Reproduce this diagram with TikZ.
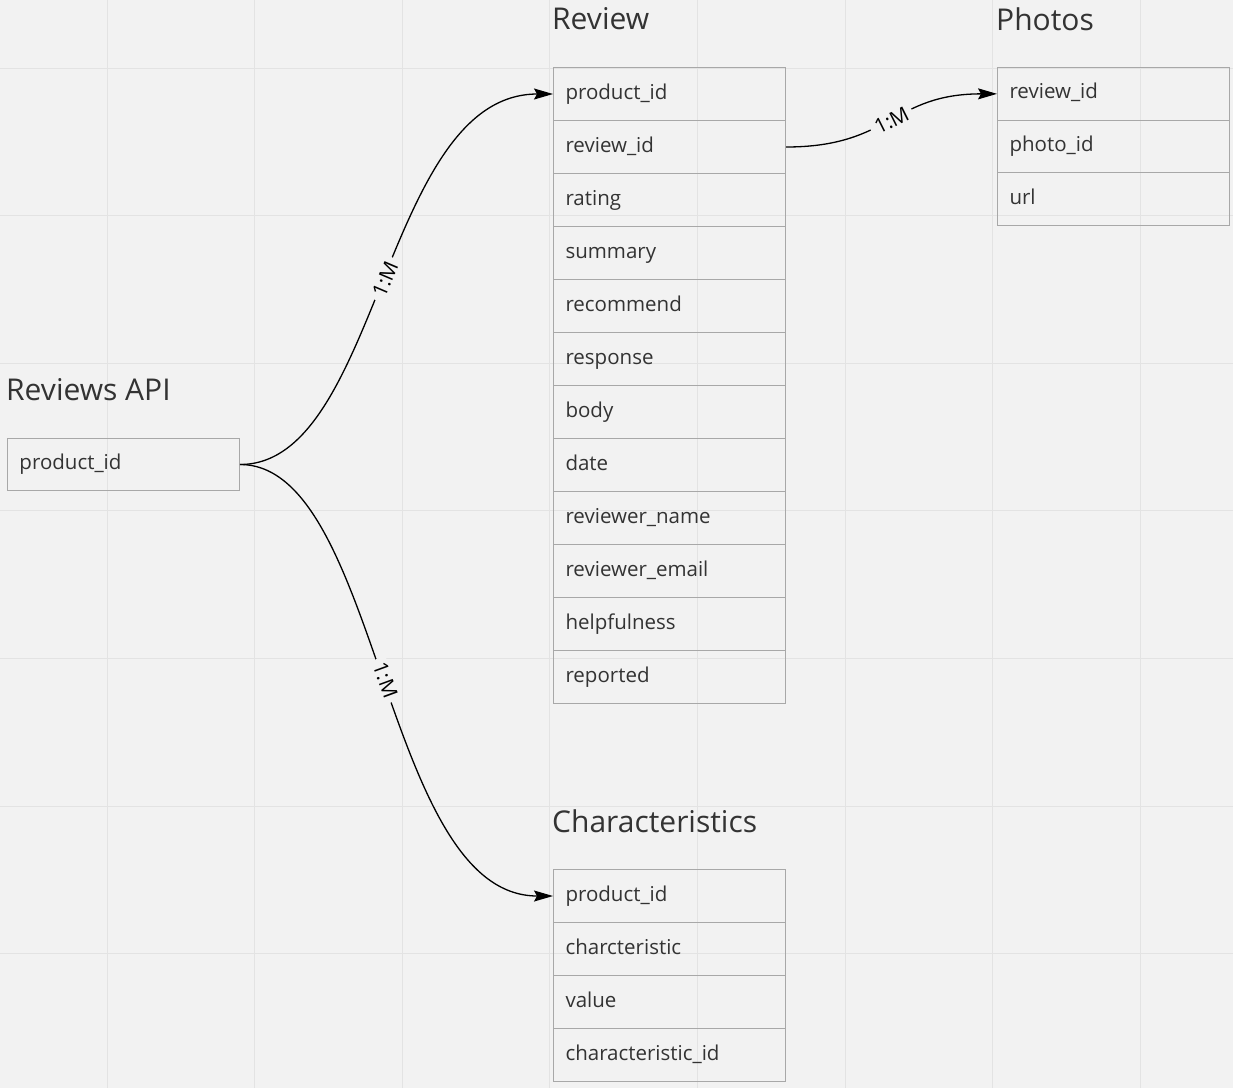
\documentclass[tikz,border=0pt]{standalone}
\usepackage{fontspec}
\setmainfont{Open Sans}
\usetikzlibrary{arrows.meta}
\definecolor{bg}{HTML}{F2F2F2}
\definecolor{gridc}{HTML}{E3E3E3}
\definecolor{boxc}{HTML}{A8A8A8}
\definecolor{txt}{HTML}{333333}
\tikzset{
  field/.style={draw=boxc, line width=1pt, anchor=north west, inner xsep=12pt, inner ysep=0pt,
    text width=208pt, align=left, minimum width=232pt, text=txt,
    text height=15pt, text depth=5pt,
    font=\fontsize{20.5}{22}\selectfont},
  tabletitle/.style={anchor=west, inner sep=0pt, text=txt, font=\fontsize{30}{34}\selectfont},
  conn/.style={line width=1.3pt, -{Stealth[length=19pt,width=11pt,inset=3pt]}},
  card/.style={midway, sloped, fill=bg, inner xsep=5pt, inner ysep=1pt, text=black, font=\fontsize{20.5}{22}\selectfont}
}
\begin{document}
\begin{tikzpicture}[x=1pt,y=-1pt]
\useasboundingbox (0,0) rectangle (1233,1088);
\fill[bg] (0,0) rectangle (1233,1088);
% grid
\foreach \k in {0,...,7} {
  \draw[gridc, line width=1pt] ({107+147.6*\k},0) -- ({107+147.6*\k},1088);
}
\foreach \k in {0,...,6} {
  \draw[gridc, line width=1pt] (0,{68+147.6*\k}) -- (1233,{68+147.6*\k});
}
% titles
\node[tabletitle] (tReview) at (552,19) {Review};
\node[tabletitle] (tPhotos) at (996,19) {Photos};
\node[tabletitle] (tApi) at (6,390) {Reviews API};
\node[tabletitle] (tChar) at (552,821) {Characteristics};
% Review table
\foreach \t [count=\i from 0] in {product\_id, review\_id, rating, summary, recommend, response, body, date, reviewer\_name, reviewer\_email, helpfulness, reported} {
  \node[field, minimum height=53pt] (rv\i) at (553,{67+53*\i}) {\t};
}
% Photos table
\foreach \t [count=\i from 0] in {review\_id, photo\_id, url} {
  \node[field, minimum height=52.7pt] (ph\i) at (997,{67+52.7*\i}) {\t};
}
% Characteristics table
\foreach \t [count=\i from 0] in {product\_id, charcteristic, value, characteristic\_id} {
  \node[field, minimum height=53pt] (ch\i) at (553,{869+53*\i}) {\t};
}
% Reviews API
\node[field, minimum height=52pt] (api) at (7,438) {product\_id};
% connectors
\draw[conn] (api.east) .. controls +(140,0) and +(-170,0) .. (rv0.west) node[card] {1:M};
\draw[conn] (api.east) .. controls +(140,0) and +(-170,0) .. (ch0.west) node[card] {1:M};
\draw[conn] (rv1.east) .. controls +(105,0) and +(-105,0) .. (ph0.west) node[card] {1:M};
\end{tikzpicture}
\end{document}
